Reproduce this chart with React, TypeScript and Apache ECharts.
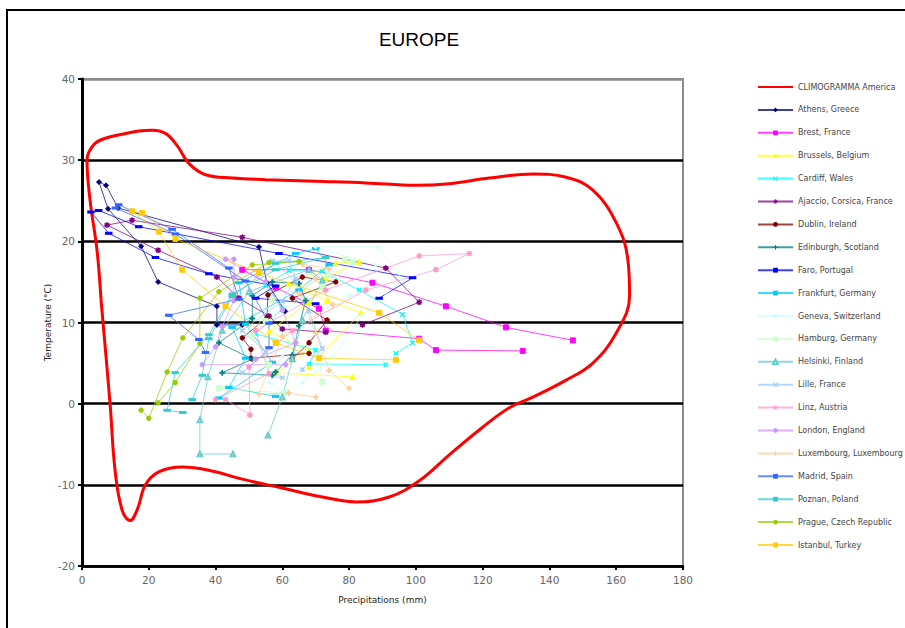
import React, { useEffect, useRef } from "react";
import * as echarts from "echarts";

const xTicks = [0, 20, 40, 60, 80, 100, 120, 140, 160, 180];
const yTicks = [-20, -10, 0, 10, 20, 30, 40];

const climogramAmerica: number[][] = [
  [5.7, 12.8], [8.4, 0], [9.9, -8.2], [12, -13.1], [14.4, -14.4], [16.6, -13], [19, -10], [23, -8.4],
  [30, -7.8], [38, -8.2], [48, -9.3], [60, -10.4], [72, -11.5], [82, -12.1], [92, -11.5], [101, -9.5],
  [110, -6.3], [120, -2.9], [128, -0.5], [135, 0.8], [145, 2.9], [153, 5.0], [160, 8.7], [164, 13.3],
  [163.5, 17.7], [160, 22.3], [153, 26.3], [145, 27.9], [135, 28.3], [122, 27.8], [110, 27.1], [100, 26.9],
  [85, 27.2], [70, 27.4], [55, 27.6], [45, 27.8], [37, 28.2], [32, 29.6], [28.5, 31.8], [25, 33.3],
  [21, 33.7], [17, 33.6], [12, 33.2], [7, 32.7], [3.5, 31.9], [1.5, 30], [2.4, 25.1], [4.5, 18.9], [5.7, 12.8],
];

const athens = [[48, 9.7], [40.4, 9.7], [40.4, 12.0], [22.8, 15.0], [17.7, 19.4], [7.8, 24.0], [5.1, 27.3], [7.2, 26.9], [10.8, 24.1], [53, 19.3], [55.4, 14.9], [60.8, 11.4]];
const brest = [[132, 6.5], [106, 6.6], [101, 8.0], [73, 9.0], [71, 11.7], [58, 14.3], [48, 16.5], [68, 16.5], [87, 14.9], [109, 12.0], [127, 9.4], [147, 7.8]];
const brussels = [[81, 3.3], [58, 3.8], [68, 6.5], [56, 8.9], [68, 12.5], [73, 15.5], [83, 17.5], [76, 17.3], [62, 14.8], [73.4, 12.7], [83.6, 11.2], [68, 4.5]];
const cardiff = [[91, 4.8], [68, 4.9], [70, 6.6], [52, 8.6], [60, 11.7], [55, 14.6], [62, 16.4], [72, 16.3], [83, 14.0], [96, 11.0], [99, 7.5], [94, 6.2]];
const ajaccio = [[73, 8.8], [60, 9.2], [56, 10.8], [47, 13.0], [40.4, 15.6], [22.8, 18.9], [7.5, 22.0], [15, 22.6], [48, 20.5], [91, 16.7], [101, 12.5], [84, 9.7]];
const dublin = [[68, 6.2], [50.6, 5.6], [50.6, 6.7], [48, 8.1], [55.4, 10.6], [55.7, 13.4], [66, 15.6], [76, 15.0], [63, 13.0], [73.4, 10.3], [68, 7.5], [63, 5.5]];
const edinburgh = [[57, 3.5], [42, 3.8], [51, 5.5], [41, 7.5], [51, 10.5], [51, 13.3], [57, 15.0], [65, 14.8], [67, 12.7], [65, 9.6], [63, 6.0], [58, 3.9]];
const faro = [[70, 12.3], [52, 13.0], [58, 14.5], [38, 16.0], [22, 18.0], [8, 21.0], [2.7, 23.6], [5, 23.8], [17, 21.8], [59, 18.5], [99, 15.5], [89, 13.0]];
const frankfurt = [[58, 0.9], [44, 2.0], [49, 5.6], [45, 9.4], [65, 14.0], [74, 17.1], [70, 19.1], [64, 18.5], [47, 14.9], [49, 9.8], [57, 5.1], [41, 0.7]];
const geneva = [[60, 1.5], [56, 2.6], [60, 5.8], [66, 9.4], [80, 13.3], [88, 17.1], [70, 19.3], [88.6, 19.3], [96, 15.3], [84, 10.9], [75, 5.7], [66, 2.6]];
const hamburg = [[61, 1.3], [41, 1.9], [56, 4.8], [51, 8.4], [57, 12.8], [74, 15.8], [78.8, 17.8], [81.2, 17.4], [72, 14.3], [55, 10.2], [71, 5.8], [72, 2.7]];
const helsinki = [[45.2, -6.2], [35.3, -6.2], [35.3, -2.0], [37.7, 3.3], [42, 9.0], [50, 13.8], [68, 16.5], [72, 15.2], [66, 10.3], [63, 5.5], [60, 0.8], [55.7, -3.9]];
const lille = [[60, 3.2], [48, 3.8], [55, 6.4], [48, 9.0], [60, 12.6], [64, 15.4], [62, 17.6], [57, 17.6], [64, 15.0], [68, 11.4], [72, 6.8], [66, 4.2]];
const linz = [[43, 0.5], [50.3, -1.4], [50, 4.5], [63, 9.0], [85, 14.0], [106, 16.5], [116, 18.5], [101, 18.2], [73, 14.0], [52, 9.0], [56, 3.7], [40, 0.5]];
const london = [[61, 4.8], [36, 4.8], [40, 7.0], [42, 9.5], [45.5, 12.7], [45.5, 15.6], [45.5, 17.8], [43, 17.8], [55, 15.0], [60, 11.5], [64, 7.5], [52, 5.5]];
const luxembourg = [[70, 0.8], [62, 1.3], [53, 1.2], [60, 8.3], [75, 12.2], [70, 15.4], [66, 17.2], [74, 16.6], [65, 13.6], [70, 8.7], [74, 4.1], [80, 1.9]];
const madrid = [[37, 6.3], [35, 7.9], [26, 10.9], [47, 12.9], [44, 16.7], [27, 21.5], [11, 24.5], [10, 24.1], [28, 20.9], [49, 15.1], [56, 9.9], [56, 6.9]];
const poznan = [[30.2, -1.1], [25.5, -0.8], [27.9, 3.8], [38, 8.5], [45, 13.5], [58, 16.5], [73, 18.0], [58, 17.3], [45, 13.2], [38, 8.0], [36, 3.5], [33, 0.5]];
const prague = [[17.7, -0.8], [20, -1.8], [25.5, 3.9], [30.2, 8.1], [41, 13.8], [56, 17.4], [65, 17.5], [51, 17.1], [35.3, 13.0], [35.3, 7.4], [27.9, 2.6], [22.8, 0.1]];
const istanbul = [[94, 5.4], [71, 5.6], [58, 7.5], [43, 12.0], [30, 16.5], [23, 21.2], [15, 23.7], [18, 23.5], [28, 20.3], [53, 16.1], [89, 11.2], [101, 7.8]];

const X_SYM = "path://M0,0L1.5,0L5,3.5L8.5,0L10,0L10,1.5L6.5,5L10,8.5L10,10L8.5,10L5,6.5L1.5,10L0,10L0,8.5L3.5,5L0,1.5Z";
const PLUS_SYM = "path://M4,0H6V4H10V6H6V10H4V6H0V4H4Z";
const STAR_SYM = "path://M4.3,0H5.7V3.3L8.3,0.7L9.3,1.7L6.7,4.3H10V5.7H6.7L9.3,8.3L8.3,9.3L5.7,6.7V10H4.3V6.7L1.7,9.3L0.7,8.3L3.3,5.7H0V4.3H3.3L0.7,1.7L1.7,0.7L4.3,3.3Z";
const DASH_SYM = "path://M0,0H10V3H0Z";

const cities: [string, number[][], string, string, number | number[]][] = [
  ["Athens, Greece", athens, "#000080", "diamond", 5],
  ["Brest, France", brest, "#FF00FF", "rect", 5],
  ["Brussels, Belgium", brussels, "#FFFF00", "triangle", 5],
  ["Cardiff, Wales", cardiff, "#00FFFF", X_SYM, 4],
  ["Ajaccio, Corsica, France", ajaccio, "#800080", STAR_SYM, 5],
  ["Dublin, Ireland", dublin, "#800000", "circle", 4.5],
  ["Edinburgh, Scotland", edinburgh, "#008080", PLUS_SYM, 5],
  ["Faro, Portugal", faro, "#0000FF", DASH_SYM, [5, 2]],
  ["Frankfurt, Germany", frankfurt, "#00CCFF", DASH_SYM, [6, 2.5]],
  ["Geneva, Switzerland", geneva, "#CCFFFF", "circle", 3],
  ["Hamburg, Germany", hamburg, "#CCFFCC", "rect", 5],
  ["Helsinki, Finland", helsinki, "#66CCCC", "emptyTriangle", 4.5],
  ["Lille, France", lille, "#99CCFF", X_SYM, 4],
  ["Linz, Austria", linz, "#FF99CC", STAR_SYM, 5],
  ["London, England", london, "#CC99FF", "circle", 4.5],
  ["Luxembourg, Luxembourg", luxembourg, "#FFCC99", PLUS_SYM, 5],
  ["Madrid, Spain", madrid, "#3366FF", DASH_SYM, [5, 2]],
  ["Poznan, Poland", poznan, "#33CCCC", DASH_SYM, [5, 2]],
  ["Prague, Czech Republic", prague, "#99CC00", "circle", 4.5],
  ["Istanbul, Turkey", istanbul, "#FFCC00", "rect", 5],
];

export default function App() {
  const ref = useRef<HTMLDivElement>(null);
  useEffect(() => {
    document.body.style.margin = "0";
    if (!ref.current) return;
    const chart = echarts.init(ref.current, null, { renderer: "svg" });
    const series: any[] = [
      {
        name: "CLIMOGRAMMA America",
        type: "line",
        data: climogramAmerica,
        smooth: 0.4,
        symbol: "none",
        lineStyle: { color: "#FF0000", width: 3 },
        itemStyle: { color: "#FF0000" },
        z: 3,
      },
      ...cities.map(([name, data, color, symbol, size]) => ({
        name,
        type: "line",
        data,
        symbol,
        symbolSize: size,
        showAllSymbol: true,
        lineStyle: { color, width: 1, opacity: 0.75 },
        itemStyle: { color, borderColor: color },
        z: 4,
      })),
    ];
    chart.setOption({
      animation: false,
      backgroundColor: "#fff",
      title: {
        text: "EUROPE",
        left: 414,
        textAlign: "center",
        top: 25,
        textStyle: { fontFamily: "'Liberation Sans', sans-serif", fontSize: 19, fontWeight: "normal", color: "#000" },
      },
      grid: {
        left: 82, top: 79, width: 601, height: 487,
        show: true, borderColor: "#8c8c8c", borderWidth: 2, backgroundColor: "transparent",
      },
      legend: {
        orient: "vertical",
        left: 757,
        top: 82,
        padding: 0,
        itemWidth: 35,
        itemHeight: 6,
        itemGap: 12.9,
        data: [
          { name: "CLIMOGRAMMA America", itemStyle: { opacity: 0 } },
          ...cities.map((c) => c[0]),
        ],
        textStyle: { fontFamily: "'DejaVu Sans', sans-serif", fontSize: 8, color: "#444", lineHeight: 10 },
      },
      xAxis: {
        type: "value",
        min: 0, max: 180, interval: 20,
        name: "Precipitations (mm)",
        nameLocation: "middle",
        nameGap: 29,
        nameMoveOverlap: false,
        nameTextStyle: { fontFamily: "'DejaVu Sans', sans-serif", fontSize: 9, color: "#222" },
        axisLine: { show: true, onZero: false, lineStyle: { color: "#000", width: 2.5 } },
        axisTick: { show: true, inside: false, length: 4, lineStyle: { color: "#000", width: 2 } },
        axisLabel: { margin: 8, fontFamily: "'DejaVu Sans', sans-serif", fontSize: 10.5, color: "#666", formatter: (v: number) => (xTicks.includes(v) ? String(v) : "") },
        splitLine: { show: false },
      },
      yAxis: {
        type: "value",
        min: -20, max: 40, interval: 10,
        name: "Temperature (°C)",
        nameLocation: "middle",
        nameGap: 30,
        nameMoveOverlap: false,
        nameRotate: 90,
        nameTextStyle: { fontFamily: "'DejaVu Sans', sans-serif", fontSize: 9, color: "#222" },
        axisLine: { show: true, onZero: false, lineStyle: { color: "#000", width: 3 } },
        axisTick: { show: true, inside: false, length: 4, lineStyle: { color: "#000", width: 2 } },
        axisLabel: { margin: 7, fontFamily: "'DejaVu Sans', sans-serif", fontSize: 10.5, color: "#666", formatter: (v: number) => (yTicks.includes(v) ? String(v) : "") },
        splitLine: { show: true, lineStyle: { color: ["#000", "#000", "#000", "#000", "#000", "#000", "#8c8c8c"], width: 2.5 } },
      },
      graphic: [
        {
          type: "rect",
          silent: true,
          shape: { x: 7, y: 10, width: 920, height: 640 },
          style: { fill: "none", stroke: "#000", lineWidth: 2 },
          z: 100,
        },
      ],
      series,
    });
    return () => chart.dispose();
  }, []);
  return <div ref={ref} style={{ width: 905, height: 628 }} />;
}
